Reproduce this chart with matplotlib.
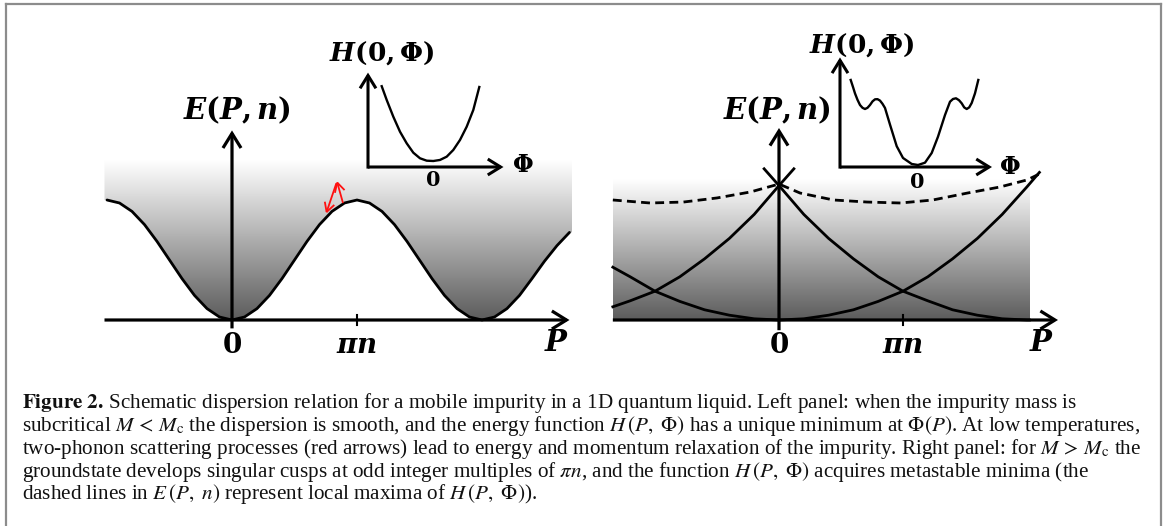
import numpy as np
import matplotlib
matplotlib.use("Agg")
import matplotlib.pyplot as plt
from matplotlib.patches import Polygon
from matplotlib.lines import Line2D
from matplotlib.colors import LinearSegmentedColormap

# ---------------- data ----------------
# Left panel: smooth dispersion E(P) (P in units of pi*n)
left_P = [-1.0, -0.9, -0.8, -0.7, -0.6, -0.5, -0.4, -0.3, -0.2, -0.1,
          0.0, 0.1, 0.2, 0.3, 0.4, 0.5, 0.6, 0.7, 0.8, 0.9,
          1.0, 1.1, 1.2, 1.3, 1.4, 1.5, 1.6, 1.7, 1.8, 1.9,
          2.0, 2.1, 2.2, 2.3, 2.4, 2.5, 2.6, 2.7]
left_E = [1.0, 0.975, 0.905, 0.795, 0.655, 0.5, 0.345, 0.205, 0.095, 0.025,
          0.0, 0.025, 0.095, 0.205, 0.345, 0.5, 0.655, 0.795, 0.905, 0.975,
          1.0, 0.975, 0.905, 0.795, 0.655, 0.5, 0.345, 0.205, 0.095, 0.025,
          0.0, 0.025, 0.095, 0.205, 0.345, 0.49, 0.62, 0.73]

# Left inset: H(0, Phi) with a single minimum
inset_left_Phi = [-1.026, -0.926, -0.794, -0.66, -0.526, -0.394, -0.26, -0.126,
                  0.006, 0.14, 0.274, 0.406, 0.54, 0.674, 0.806, 0.926]
inset_left_H = [1.01, 0.838, 0.629, 0.441, 0.296, 0.179, 0.109, 0.079,
                0.075, 0.088, 0.129, 0.213, 0.338, 0.504, 0.713, 1.0]

# Red arrows (two-phonon process): start -> end points
red_arrow_start_P = [0.888, 0.835]
red_arrow_start_E = [0.975, 1.14]
red_arrow_end_P = [0.838, 0.752]
red_arrow_end_E = [1.16, 0.885]

# Right panel: three parabola branches centred at -2, 0, +2 (pi*n units)
branch_m2_P = [-1.34, -1.2, -1.0, -0.8, -0.6, -0.4, -0.2, 0.0, 0.12]
branch_m2_E = [0.11, 0.16, 0.24, 0.36, 0.51, 0.68, 0.88, 1.12, 1.26]
branch_0_P = [-1.34, -1.2, -1.0, -0.8, -0.6, -0.4, -0.2, 0.0, 0.2, 0.4, 0.6,
              0.8, 1.0, 1.2, 1.4, 1.6, 1.8, 2.0, 2.1]
branch_0_E = [0.44, 0.36, 0.24, 0.155, 0.085, 0.04, 0.01, 0.0, 0.01, 0.04, 0.085,
              0.155, 0.24, 0.36, 0.51, 0.68, 0.88, 1.11, 1.23]
branch_p2_P = [-0.12, 0.0, 0.2, 0.4, 0.6, 0.8, 1.0, 1.2, 1.4, 1.6, 1.8, 2.0, 2.02]
branch_p2_E = [1.26, 1.12, 0.88, 0.68, 0.51, 0.36, 0.24, 0.16, 0.085, 0.04, 0.01, 0.0, 0.0]

# Right panel dashed line: local maxima of H(P, Phi)
dashed_P = [-1.34, -1.04, -0.77, -0.5, -0.23, 0.0, 0.17, 0.44, 0.71, 0.98,
            1.24, 1.52, 1.78, 2.0, 2.1]
dashed_E = [1.0, 0.975, 0.983, 1.017, 1.067, 1.133, 1.058, 1.0, 0.983, 0.975,
            1.0, 1.058, 1.108, 1.167, 1.217]

# Right inset: H(0, Phi) with metastable minima
inset_right_Phi = [-1.326, -1.28, -1.24, -1.19, -1.14, -1.09, -1.04, -0.99, -0.94,
                   -0.89, -0.84, -0.79, -0.74, -0.69, -0.64, -0.54,
                   -0.406, -0.28, -0.106, 0.02, 0.16, 0.294, 0.42, 0.56, 0.66,
                   0.72, 0.78, 0.84, 0.894, 0.944, 0.994, 1.044, 1.094, 1.16, 1.226]
inset_right_H = [1.088, 1.0, 0.92, 0.84, 0.775, 0.74, 0.725, 0.74, 0.775,
                 0.82, 0.846, 0.848, 0.83, 0.79, 0.738, 0.53,
                 0.26, 0.113, 0.038, 0.025, 0.054, 0.175, 0.379, 0.65, 0.816,
                 0.85, 0.859, 0.835, 0.796, 0.745, 0.725, 0.745, 0.8, 0.921, 1.088]

# Tick labels
tick_pos = [0.0, 1.0]
tick_labels = [r"$\mathbf{0}$", r"$\mathbfit{\pi n}$"]
axis_label_P = r"$\mathbfit{P}$"
axis_label_E = r"$\mathbfit{E}\mathbf{(}\mathbfit{P}\mathbf{,}\,\mathbfit{n}\mathbf{)}$"
inset_label_H = r"$\mathbfit{H}\mathbf{(0,\Phi)}$"
inset_label_Phi = r"$\mathbf{\Phi}$"

caption_lines = [
    r"$\mathbf{Figure\ 2.}\,$Schematic dispersion relation for a mobile impurity in a 1D quantum liquid. Left panel: when the impurity mass is",
    r"subcritical $M\,<\,M_{\rm c}$ the dispersion is smooth, and the energy function $H\,(P,\ \Phi)$ has a unique minimum at $\Phi(P)$. At low temperatures,",
    r"two-phonon scattering processes (red arrows) lead to energy and momentum relaxation of the impurity. Right panel: for $M\,>\,M_{\rm c}$ the",
    r"groundstate develops singular cusps at odd integer multiples of $\pi n$, and the function $H\,(P,\ \Phi)$ acquires metastable minima (the",
    r"dashed lines in $E\,(P,\ n)$ represent local maxima of $H\,(P,\ \Phi)$).",
]

# ---------------- layout ----------------
W, H = 1168, 526
fig = plt.figure(figsize=(W / 100, H / 100), dpi=100)


def px_axes(box, origin, sx, sy):
    l, t, r, b = box
    ax = fig.add_axes([l / W, 1 - b / H, (r - l) / W, (b - t) / H])
    ox, oy = origin
    ax.set_xlim((l - ox) / sx, (r - ox) / sx)
    ax.set_ylim((oy - b) / sy, (oy - t) / sy)
    ax.set_axis_off()
    return ax


def arrow(ax, start, end, lw=2.3, ms=25, hl=0.42, hw=0.26, color="k", z=4):
    ax.annotate("", xy=end, xytext=start, annotation_clip=False,
                arrowprops=dict(arrowstyle=f"->,head_length={hl},head_width={hw}",
                                lw=lw, color=color, shrinkA=0, shrinkB=0,
                                mutation_scale=ms, joinstyle="miter",
                                capstyle="butt"), zorder=z)


gray_cmap = LinearSegmentedColormap.from_list("g", [(0.36, 0.36, 0.36), (1, 1, 1)])
grad = np.linspace(0, 1, 256)[:, None]

lab_kw = dict(math_fontfamily="dejavuserif", ha="center", va="center")

# ---- Left main panel ----
axL = px_axes((90, 60, 600, 370), (232, 320), 125, 120)
top_L = 1.33
poly_pts = [(-1.02, left_E[0])] + list(zip(left_P, left_E)) + [(2.72, left_E[-1]), (2.72, top_L), (-1.02, top_L)]
clipL = Polygon(poly_pts, closed=True, transform=axL.transData, facecolor="none", edgecolor="none")
axL.add_patch(clipL)
imL = axL.imshow(grad, extent=[-1.02, 2.72, 0, top_L], origin="lower", cmap=gray_cmap,
                 aspect="auto", vmin=0, vmax=1, zorder=0, interpolation="bilinear")
imL.set_clip_path(clipL)
axL.plot(left_P, left_E, color="k", lw=2.0, zorder=3, solid_capstyle="round")
arrow(axL, (-1.02, 0), (2.7, 0))
arrow(axL, (0, -0.07), (0, 1.58))
axL.plot([1, 1], [-0.045, 0.04], color="k", lw=1.5, zorder=3)
for sP, sE, eP, eE in zip(red_arrow_start_P, red_arrow_start_E, red_arrow_end_P, red_arrow_end_E):
    arrow(axL, (sP, sE), (eP, eE), lw=1.3, ms=12, hl=0.55, hw=0.3, color="#ff1010", z=5)
for p, t in zip(tick_pos, tick_labels):
    axL.text(p, -0.21, t, fontsize=20, **lab_kw)
axL.text(2.6, -0.19, axis_label_P, fontsize=21, **lab_kw)
axL.text(0.04, 1.75, axis_label_E, fontsize=21, **lab_kw)

# ---- Left inset ----
axLi = px_axes((350, 20, 540, 200), (433, 167), 50, 80)
axLi.plot(inset_left_Phi, inset_left_H, color="k", lw=1.7, zorder=3)
arrow(axLi, (-1.3, 0), (1.41, 0), lw=2.2, ms=22)
arrow(axLi, (-1.3, -0.02), (-1.3, 1.18), lw=2.2, ms=22)
axLi.text(0, -0.16, r"$\mathbf{0}$", fontsize=15, **lab_kw)
axLi.text(1.8, 0.02, inset_label_Phi, fontsize=17, **lab_kw)
axLi.text(-1.02, 1.42, inset_label_H, fontsize=19, **lab_kw)

# ---- Right main panel ----
axR = px_axes((600, 60, 1070, 370), (779, 320), 124, 120)
axR.imshow(grad, extent=[-1.34, 2.02, 0, 1.17], origin="lower", cmap=gray_cmap,
           aspect="auto", vmin=0, vmax=1, zorder=0, interpolation="bilinear")
for bp, be in ((branch_m2_P, branch_m2_E), (branch_0_P, branch_0_E), (branch_p2_P, branch_p2_E)):
    axR.plot(bp, be, color="k", lw=2.0, zorder=3)
axR.plot(dashed_P, dashed_E, color="k", lw=2.0, ls=(0, (3.2, 1.9)), zorder=3)
arrow(axR, (-1.34, 0), (2.25, 0))
arrow(axR, (0, -0.085), (0, 1.6))
axR.plot([1, 1], [-0.045, 0.04], color="k", lw=1.5, zorder=3)
for p, t in zip(tick_pos, tick_labels):
    axR.text(p, -0.21, t, fontsize=20, **lab_kw)
axR.text(2.12, -0.19, axis_label_P, fontsize=21, **lab_kw)
axR.text(-0.02, 1.75, axis_label_E, fontsize=21, **lab_kw)

# ---- Right inset ----
axRi = px_axes((830, 15, 1030, 200), (917, 167), 50, 80)
axRi.plot(inset_right_Phi, inset_right_H, color="k", lw=1.7, zorder=3)
arrow(axRi, (-1.54, 0), (1.5, 0), lw=2.2, ms=22)
arrow(axRi, (-1.54, -0.02), (-1.54, 1.37), lw=2.2, ms=22)
axRi.text(0, -0.19, r"$\mathbf{0}$", fontsize=15, **lab_kw)
axRi.text(1.86, 0.0, inset_label_Phi, fontsize=17, **lab_kw)
axRi.text(-1.1, 1.53, inset_label_H, fontsize=19, **lab_kw)

# ---- Caption ----
line_y = [403, 426, 449, 472, 494]
for y, s in zip(line_y, caption_lines):
    fig.text(22 / W, 1 - y / H, s, fontsize=15.25, family="Liberation Serif",
             math_fontfamily="stix", ha="left", va="center", color="#111111")

# ---- frame ----
fc = (0.55, 0.55, 0.55)
fig.add_artist(Line2D([6 / W, 6 / W], [0, 1 - 4 / H], color=fc, lw=1.6, transform=fig.transFigure))
fig.add_artist(Line2D([6 / W, 1161 / W], [1 - 4 / H, 1 - 4 / H], color=fc, lw=1.6, transform=fig.transFigure))
fig.add_artist(Line2D([1161 / W, 1161 / W], [0, 1 - 4 / H], color=fc, lw=1.6, transform=fig.transFigure))

fig.savefig("out.png", dpi=100, facecolor="white")
